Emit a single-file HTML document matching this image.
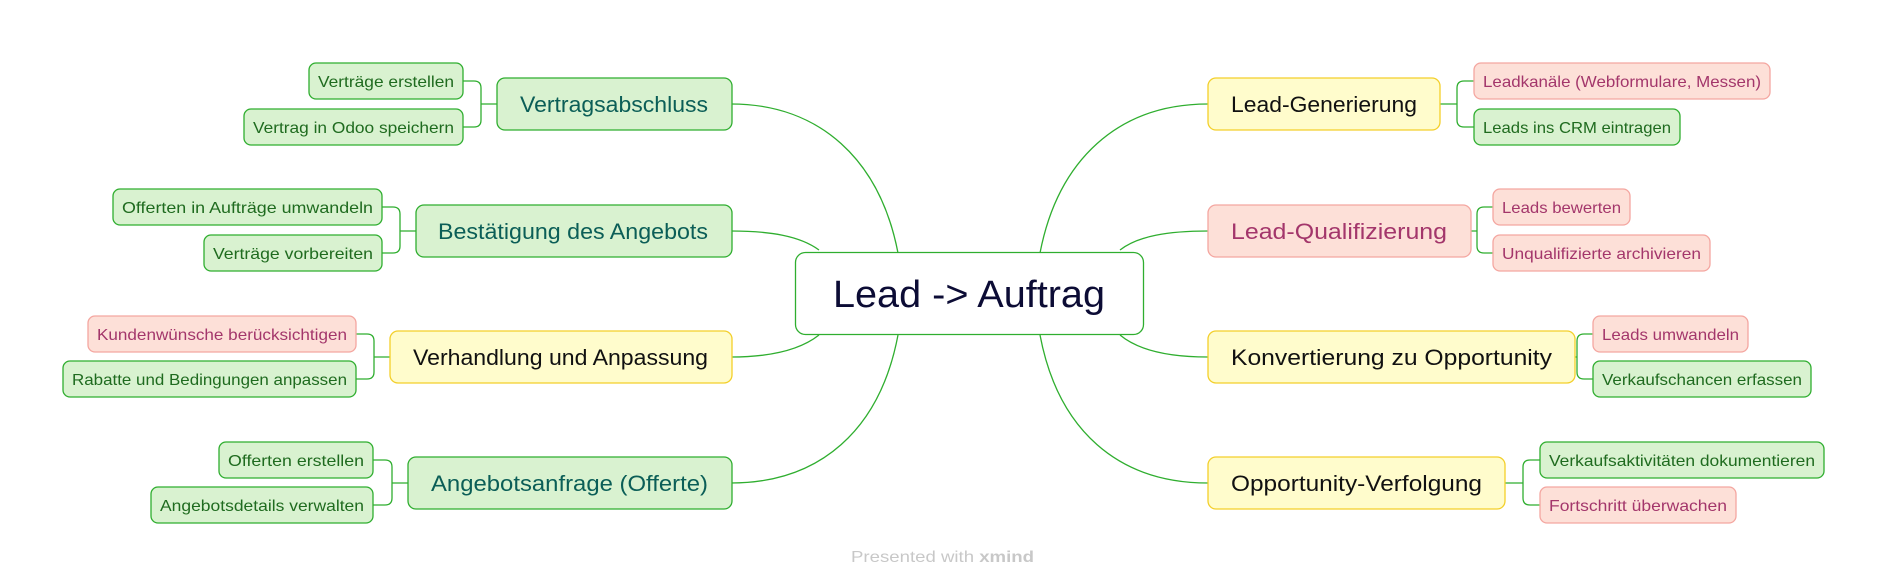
<!DOCTYPE html>
<html><head><meta charset="utf-8"><style>
html,body{margin:0;padding:0;background:#fff;}
svg{display:block;}
text{font-family:"Liberation Sans",sans-serif;}
</style></head><body>
<svg width="1888" height="587" viewBox="0 0 1888 587" xmlns="http://www.w3.org/2000/svg">
<g fill="none" stroke="#2fae2f" stroke-width="1.3">
<!-- center to main left -->
<path d="M898,253 C880,160 820,104 731,104"/>
<path d="M819,250 C800,236 770,231 731,231"/>
<path d="M819,335 C800,350 770,357 731,357"/>
<path d="M898,335 C880,430 820,483 731,483"/>
<!-- right -->
<path d="M1040,253 C1058,160 1118,104 1208,104"/>
<path d="M1120,250 C1138,236 1168,231 1208,231"/>
<path d="M1120,335 C1138,350 1168,357 1208,357"/>
<path d="M1040,335 C1058,430 1118,483 1208,483"/>
<!-- brackets left -->
<path d="M497,104 H481 M462,81 H474 Q481,81 481,88 V120 Q481,127 474,127 H462"/>
<path d="M416,231 H400 M382,207 H393 Q400,207 400,214 V246 Q400,253 393,253 H382"/>
<path d="M390,357 H374 M356,334 H367 Q374,334 374,341 V372 Q374,379 367,379 H356"/>
<path d="M408,483 H392 M373,460 H385 Q392,460 392,467 V498 Q392,505 385,505 H373"/>
<!-- brackets right -->
<path d="M1440,104 H1457 M1474,81 H1464 Q1457,81 1457,88 V120 Q1457,127 1464,127 H1474"/>
<path d="M1471,231 H1477 M1493,207 H1484 Q1477,207 1477,214 V246 Q1477,253 1484,253 H1493"/>
<path d="M1575,357 H1577 M1593,334 H1584 Q1577,334 1577,341 V372 Q1577,379 1584,379 H1593"/>
<path d="M1505,483 H1523 M1540,460 H1530 Q1523,460 1523,467 V498 Q1523,505 1530,505 H1540"/>
</g>
<!-- center -->
<rect x="795.5" y="252.5" width="348" height="82" rx="10" fill="#fff" stroke="#2fae2f" stroke-width="1.3"/>
<text x="969" y="307" font-size="38" fill="#0c0c35" text-anchor="middle" textLength="272" lengthAdjust="spacingAndGlyphs">Lead -&gt; Auftrag</text>

<g stroke-width="1.3">
<!-- main left -->
<rect x="497" y="78" width="235" height="52" rx="8" fill="#d9f2d0" stroke="#2fae2f"/>
<rect x="416" y="205" width="316" height="52" rx="8" fill="#d9f2d0" stroke="#2fae2f"/>
<rect x="390" y="331" width="342" height="52" rx="8" fill="#fffccc" stroke="#f3cf2a"/>
<rect x="408" y="457" width="324" height="52" rx="8" fill="#d9f2d0" stroke="#2fae2f"/>
<!-- main right -->
<rect x="1208" y="78" width="232" height="52" rx="8" fill="#fffccc" stroke="#f3cf2a"/>
<rect x="1208" y="205" width="263" height="52" rx="8" fill="#fde0d8" stroke="#f4a6a0"/>
<rect x="1208" y="331" width="367" height="52" rx="8" fill="#fffccc" stroke="#f3cf2a"/>
<rect x="1208" y="457" width="297" height="52" rx="8" fill="#fffccc" stroke="#f3cf2a"/>
<!-- subs left -->
<rect x="309" y="63" width="154" height="36" rx="7" fill="#d9f2d0" stroke="#2fae2f"/>
<rect x="244" y="109" width="219" height="36" rx="7" fill="#d9f2d0" stroke="#2fae2f"/>
<rect x="113" y="189" width="269" height="36" rx="7" fill="#d9f2d0" stroke="#2fae2f"/>
<rect x="204" y="235" width="178" height="36" rx="7" fill="#d9f2d0" stroke="#2fae2f"/>
<rect x="88" y="316" width="268" height="36" rx="7" fill="#fde0d8" stroke="#f4a6a0"/>
<rect x="63" y="361" width="293" height="36" rx="7" fill="#d9f2d0" stroke="#2fae2f"/>
<rect x="219" y="442" width="154" height="36" rx="7" fill="#d9f2d0" stroke="#2fae2f"/>
<rect x="151" y="487" width="222" height="36" rx="7" fill="#d9f2d0" stroke="#2fae2f"/>
<!-- subs right -->
<rect x="1474" y="63" width="296" height="36" rx="7" fill="#fde0d8" stroke="#f4a6a0"/>
<rect x="1474" y="109" width="206" height="36" rx="7" fill="#d9f2d0" stroke="#2fae2f"/>
<rect x="1493" y="189" width="137" height="36" rx="7" fill="#fde0d8" stroke="#f4a6a0"/>
<rect x="1493" y="235" width="217" height="36" rx="7" fill="#fde0d8" stroke="#f4a6a0"/>
<rect x="1593" y="316" width="155" height="36" rx="7" fill="#fde0d8" stroke="#f4a6a0"/>
<rect x="1593" y="361" width="218" height="36" rx="7" fill="#d9f2d0" stroke="#2fae2f"/>
<rect x="1540" y="442" width="284" height="36" rx="7" fill="#d9f2d0" stroke="#2fae2f"/>
<rect x="1540" y="487" width="196" height="36" rx="7" fill="#fde0d8" stroke="#f4a6a0"/>
</g>

<g font-size="22">
<text x="520" y="112" fill="#0b5e57" textLength="188" lengthAdjust="spacingAndGlyphs">Vertragsabschluss</text>
<text x="438" y="239" fill="#0b5e57" textLength="270" lengthAdjust="spacingAndGlyphs">Bestätigung des Angebots</text>
<text x="413" y="365" fill="#111" textLength="295" lengthAdjust="spacingAndGlyphs">Verhandlung und Anpassung</text>
<text x="431" y="491" fill="#0b5e57" textLength="277" lengthAdjust="spacingAndGlyphs">Angebotsanfrage (Offerte)</text>
<text x="1231" y="112" fill="#111" textLength="186" lengthAdjust="spacingAndGlyphs">Lead-Generierung</text>
<text x="1231" y="239" fill="#a3366b" textLength="216" lengthAdjust="spacingAndGlyphs">Lead-Qualifizierung</text>
<text x="1231" y="365" fill="#111" textLength="321" lengthAdjust="spacingAndGlyphs">Konvertierung zu Opportunity</text>
<text x="1231" y="491" fill="#111" textLength="251" lengthAdjust="spacingAndGlyphs">Opportunity-Verfolgung</text>
</g>
<g font-size="16">
<text x="318" y="87" fill="#1f6b1f" textLength="136" lengthAdjust="spacingAndGlyphs">Verträge erstellen</text>
<text x="253" y="133" fill="#1f6b1f" textLength="201" lengthAdjust="spacingAndGlyphs">Vertrag in Odoo speichern</text>
<text x="122" y="213" fill="#1f6b1f" textLength="251" lengthAdjust="spacingAndGlyphs">Offerten in Aufträge umwandeln</text>
<text x="213" y="259" fill="#1f6b1f" textLength="160" lengthAdjust="spacingAndGlyphs">Verträge vorbereiten</text>
<text x="97" y="340" fill="#a3366b" textLength="250" lengthAdjust="spacingAndGlyphs">Kundenwünsche berücksichtigen</text>
<text x="72" y="385" fill="#1f6b1f" textLength="275" lengthAdjust="spacingAndGlyphs">Rabatte und Bedingungen anpassen</text>
<text x="228" y="466" fill="#1f6b1f" textLength="136" lengthAdjust="spacingAndGlyphs">Offerten erstellen</text>
<text x="160" y="511" fill="#1f6b1f" textLength="204" lengthAdjust="spacingAndGlyphs">Angebotsdetails verwalten</text>
<text x="1483" y="87" fill="#a3366b" textLength="278" lengthAdjust="spacingAndGlyphs">Leadkanäle (Webformulare, Messen)</text>
<text x="1483" y="133" fill="#1f6b1f" textLength="188" lengthAdjust="spacingAndGlyphs">Leads ins CRM eintragen</text>
<text x="1502" y="213" fill="#a3366b" textLength="119" lengthAdjust="spacingAndGlyphs">Leads bewerten</text>
<text x="1502" y="259" fill="#a3366b" textLength="199" lengthAdjust="spacingAndGlyphs">Unqualifizierte archivieren</text>
<text x="1602" y="340" fill="#a3366b" textLength="137" lengthAdjust="spacingAndGlyphs">Leads umwandeln</text>
<text x="1602" y="385" fill="#1f6b1f" textLength="200" lengthAdjust="spacingAndGlyphs">Verkaufschancen erfassen</text>
<text x="1549" y="466" fill="#1f6b1f" textLength="266" lengthAdjust="spacingAndGlyphs">Verkaufsaktivitäten dokumentieren</text>
<text x="1549" y="511" fill="#a3366b" textLength="178" lengthAdjust="spacingAndGlyphs">Fortschritt überwachen</text>
</g>
<text x="851" y="562" font-size="16" fill="#c8c8c8" textLength="183" lengthAdjust="spacingAndGlyphs">Presented with <tspan font-weight="bold">xmind</tspan></text>
</svg>
</body></html>
